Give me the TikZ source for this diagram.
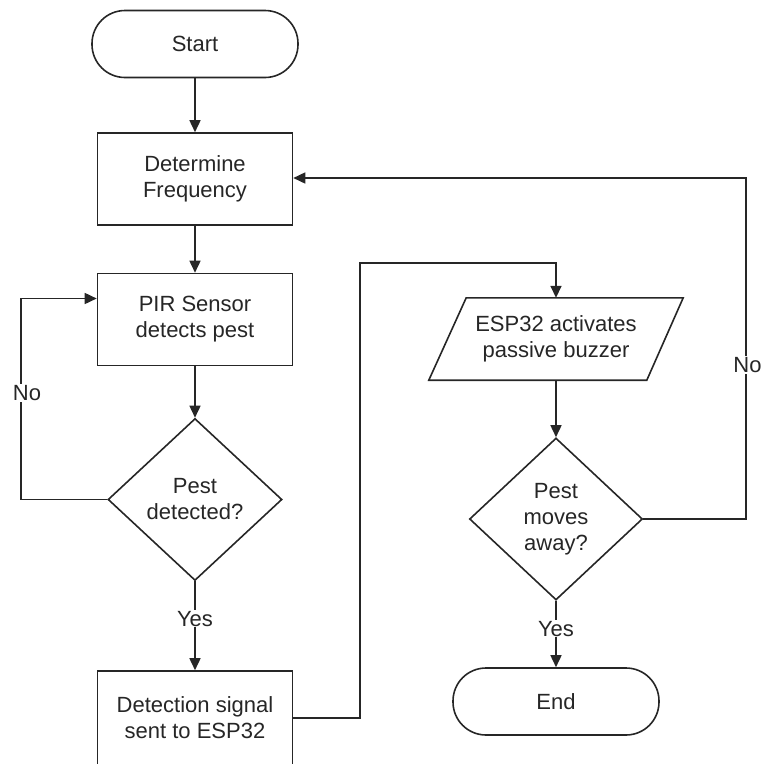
\documentclass[tikz,border=0pt]{standalone}
\usepackage{fontspec}
\setmainfont{Liberation Sans}
\usetikzlibrary{shapes.geometric,arrows.meta}
\definecolor{ink}{RGB}{38,38,38}
\tikzset{
  every node/.style={font=\fontsize{22}{26}\selectfont, text=ink, align=center},
  base/.style={draw=ink, line width=1.6pt, inner sep=0pt},
  term/.style={base, rectangle, rounded corners=33pt, minimum width=206pt, minimum height=67pt},
  proc/.style={base, rectangle, minimum width=195pt, minimum height=92pt},
  decide/.style={base, diamond, minimum width=174pt, minimum height=162pt},
  conn/.style={draw=ink, line width=1.6pt, -{Triangle[length=12pt,width=11pt]}},
  plain/.style={draw=ink, line width=1.6pt},
  lbl/.style={fill=white, inner sep=1pt}
}
\begin{document}
\begin{tikzpicture}[x=1pt,y=-1pt]
\useasboundingbox (0,0) rectangle (762,764);
\clip (0,0) rectangle (762,764);
\node[term] (start) at (195,44) {Start};
\node[proc] (freq) at (195,179) {Determine\\Frequency};
\node[proc] (pir) at (195,319.5) {PIR Sensor\\detects pest};
\node[decide] (d1) at (195,499.5) {Pest\\detected?};
\node[proc, minimum height=94pt] (det) at (195,718) {Detection signal\\sent to ESP32};
\node[inner sep=0pt, minimum width=254pt, minimum height=82pt] (esp) at (556,339) {ESP32 activates\\passive buzzer};
\draw[plain] (esp.south west) -- ([xshift=218pt]esp.south west) -- (esp.north east) -- ([xshift=-217pt]esp.north east) -- cycle;
\node[decide, minimum width=173pt] (d2) at (556,519) {Pest\\moves\\away?};
\node[term] (end) at (556,701.5) {End};
\coordinate (pirin) at ([yshift=21pt]pir.west);
\coordinate (c1) at (21,499.5);
\coordinate (c2) at (360,718);
\coordinate (c3) at (360,263);
\coordinate (c4) at (746,519);
\coordinate (c5) at (746,178);

\draw[conn] (start) -- (freq);
\draw[conn] (freq) -- (pir);
\draw[conn] (pir) -- (d1);
\draw[conn] (d1.south) -- node[lbl, pos=0.42] {Yes} (det.north);
\draw[conn] (d1.west) -- (c1) -- (c1 |- pirin) -- (pirin);
\node[lbl] (nol) at (27,393) {No};
\draw[conn] (det.east |- c2) -- (c2) -- (c3) -- (c3 -| esp.north) -- (esp.north);
\draw[conn] (esp.south) -- (d2.north);
\draw[conn] (d2.south) -- node[lbl, pos=0.42] {Yes} (end.north);
\draw[conn] (d2.east) -- (c4) -- (c5) -- (freq.east |- c5);
\node[lbl] (nor) at (747.5,365) {No};
\end{tikzpicture}
\end{document}
